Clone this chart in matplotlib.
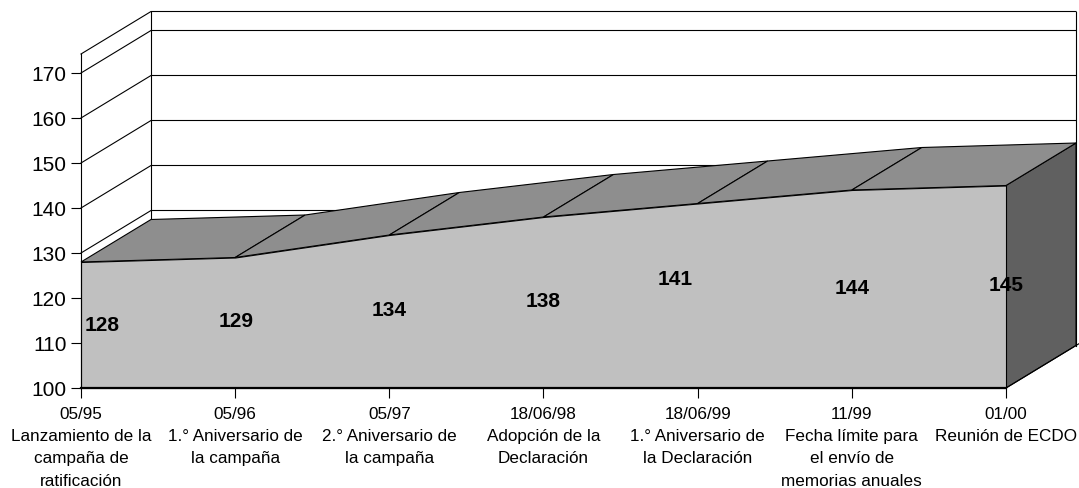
import matplotlib
matplotlib.use("Agg")
import matplotlib.pyplot as plt
import numpy as np

plt.rcParams['font.family'] = ['Liberation Sans', 'DejaVu Sans']

dates = ["05/95", "05/96", "05/97", "18/06/98", "18/06/99", "11/99", "01/00"]
events = ["Lanzamiento de la\ncampaña de\nratificación",
          "1.° Aniversario de\nla campaña",
          "2.° Aniversario de\nla campaña",
          "Adopción de la\nDeclaración",
          "1.° Aniversario de\nla Declaración",
          "Fecha límite para\nel envío de\nmemorias anuales",
          "Reunión de ECDO"]
values = [128, 129, 134, 138, 141, 144, 145]
yticks = [100, 110, 120, 130, 140, 150, 160, 170]
label_heights = [114.0, 114.7, 117.2, 119.2, 124.1, 122.1, 122.7]
label_shift_px = [21, 1, 0, 0, -22, 0, 0]

W, H = 1079, 488
L, R, T, B = 81, 1006, 54, 388
YMIN, YMAX = 100, 100 + (B - T) / 4.5
DEPTH_X_PX, DEPTH_Y_PX = 70, 42.5
LW = 0.8

fig = plt.figure(figsize=(W / 100, H / 100), dpi=100, facecolor="white")
ax = fig.add_axes([L / W, 1 - B / H, (R - L) / W, (B - T) / H])
n = len(values)
x = np.arange(n)
ax.set_xlim(0, n - 1)
ax.set_ylim(YMIN, YMAX)
dx = DEPTH_X_PX / ((R - L) / (n - 1))
dy = DEPTH_Y_PX / 4.5

# walls and gridlines
for v in yticks[3:] + [YMAX]:
    ax.plot([0, dx, n - 1 + dx], [v, v + dy, v + dy], color="black", lw=LW,
            clip_on=False, zorder=1, solid_joinstyle="miter")
ax.plot([dx, dx], [YMIN + dy, YMAX + dy], color="black", lw=LW, clip_on=False, zorder=1)
ax.plot([n - 1 + dx, n - 1 + dx], [YMIN + dy, YMAX + dy], color="black", lw=LW, clip_on=False, zorder=1)
ax.plot([n - 1, n - 1 + dx * 1.05], [YMIN, YMIN + dy * 1.05], color="black", lw=LW, clip_on=False, zorder=4)

# right side
ax.fill([n - 1, n - 1, n - 1 + dx, n - 1 + dx],
        [YMIN, values[-1], values[-1] + dy, YMIN + dy],
        facecolor="#606060", edgecolor="black", lw=LW, clip_on=False, zorder=2)

# top face
for i in range(n - 1):
    ax.fill([x[i], x[i + 1], x[i + 1] + dx, x[i] + dx],
            [values[i], values[i + 1], values[i + 1] + dy, values[i] + dy],
            facecolor="#8e8e8e", edgecolor="black", lw=LW, clip_on=False, zorder=2)

# front face
ax.fill_between(x, YMIN, values, facecolor="#c0c0c0", edgecolor="black", lw=LW, zorder=3, clip_on=False)

# data labels
for i in range(n):
    ax.annotate(str(values[i]), xy=(x[i], label_heights[i]), xytext=(label_shift_px[i] * 0.72, 0),
                textcoords="offset points", ha="center", va="center",
                fontsize=15, fontweight="bold", color="black", zorder=6, annotation_clip=False)

for s in ("top", "right"):
    ax.spines[s].set_visible(False)
ax.spines["left"].set_linewidth(LW)
ax.spines["left"].set_zorder(5)
ax.spines["bottom"].set_linewidth(1.6)
ax.spines["bottom"].set_zorder(5)

ax.set_yticks(yticks)
ax.tick_params(axis="y", length=7.2, width=LW, pad=3.2, labelsize=15, colors="black")
for lab in ax.get_yticklabels():
    lab.set_verticalalignment("center_baseline")
ax.set_xticks(x)
ax.set_xticklabels([f"{d}\n{e}" for d, e in zip(dates, events)], fontsize=12.3, linespacing=1.6)
ax.tick_params(axis="x", length=7.2, width=LW, pad=6.5, colors="black")

fig.savefig("out.png", dpi=100, facecolor="white")
